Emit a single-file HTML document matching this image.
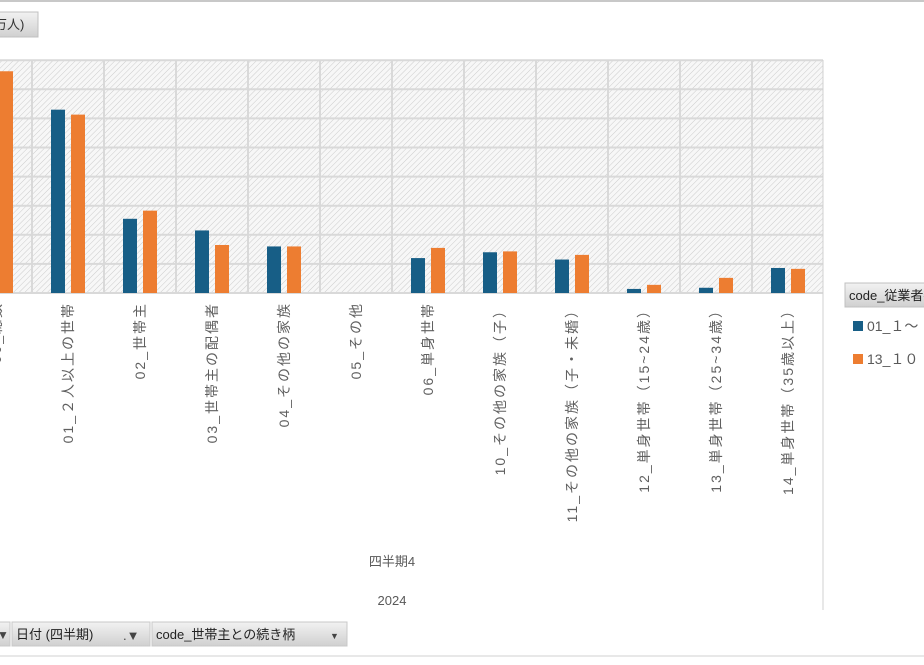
<!DOCTYPE html>
<html><head><meta charset="utf-8"><style>
body{margin:0;width:924px;height:660px;overflow:hidden;background:#fff;font-family:"Liberation Sans","Noto Sans CJK JP",sans-serif;}
</style></head><body>
<svg width="924" height="660" xmlns="http://www.w3.org/2000/svg">
<defs>
<pattern id="hatch" width="4" height="4" patternUnits="userSpaceOnUse" patternTransform="rotate(45)">
<rect width="4" height="4" fill="#f7f7f7"/><line x1="0" y1="0" x2="0" y2="4" stroke="#cccccc" stroke-width="1"/>
</pattern>
<linearGradient id="btn" x1="0" y1="0" x2="0" y2="1"><stop offset="0" stop-color="#f2f2f2"/><stop offset="1" stop-color="#d0d0d0"/></linearGradient>
</defs>
<line x1="0" y1="1" x2="924" y2="1" stroke="#c8c8c8" stroke-width="2"/>
<g>
<rect x="-2" y="12" width="40" height="25" fill="url(#btn)" stroke="#c0c0c0"/>
<text x="-6" y="29" font-size="13" fill="#333">万人)</text>
</g>
<rect x="0" y="60" width="823" height="233" fill="url(#hatch)"/>
<g id="grid"></g>
<g id="bars"></g>
<g id="labels"></g>
<line x1="823" y1="60" x2="823" y2="610" stroke="#d0d0d0"/>
<text x="392" y="566" font-size="13" fill="#595959" text-anchor="middle">四半期4</text>
<text x="392" y="605" font-size="13" fill="#595959" text-anchor="middle">2024</text>
<g>
<g>
<rect x="845" y="283" width="85" height="24" fill="url(#btn)" stroke="#c0c0c0"/>
<text x="849" y="300" font-size="13" fill="#222">code_従業者数</text>
</g>
<g>
<rect x="853" y="321" width="10" height="10" fill="#175e86"/>
<text x="867" y="331" font-size="14" fill="#595959">01_１～</text>
</g>
<g>
<rect x="853" y="354" width="10" height="10" fill="#ed7d31"/>
<text x="867" y="364" font-size="14" fill="#595959">13_１０</text>
</g>
</g>
<g>
<rect x="-2" y="622" width="12" height="24" fill="url(#btn)" stroke="#c8c8c8"/>
<text x="-3" y="639" font-size="12" fill="#444">▼</text>
<g>
<rect x="12" y="622" width="138" height="24" fill="url(#btn)" stroke="#c8c8c8"/>
<text x="16" y="639" font-size="13" fill="#222">日付 (四半期)</text>
<text x="123" y="640" font-size="13" fill="#444">.▼</text>
</g>
<g>
<rect x="152" y="622" width="195" height="24" fill="url(#btn)" stroke="#c8c8c8"/>
<text x="156" y="639" font-size="13" fill="#222">code_世帯主との続き柄</text>
<text x="330" y="639" font-size="9" fill="#444">▼</text>
</g>
</g>
<line x1="0" y1="656" x2="924" y2="656" stroke="#d0d0d0"/>
</svg>
<script>
const categories=["00_総数","01_２人以上の世帯","02_世帯主","03_世帯主の配偶者","04_その他の家族","05_その他","06_単身世帯","10_その他の家族（子）","11_その他の家族（子・未婚）","12_単身世帯（15~24歳）","13_単身世帯（25~34歳）","14_単身世帯（35歳以上）"];
const series01=[7.9,6.3,2.55,2.15,1.6,0,1.2,1.4,1.15,0.14,0.18,0.86];
const series13=[7.62,6.13,2.83,1.65,1.6,0,1.55,1.43,1.31,0.28,0.52,0.83];
const yTicks=[0,1,2,3,4,5,6,7,8];
const ns="http://www.w3.org/2000/svg";
const y0=293, unit=29.1, x0=-4, cw=72;
const yS=v=>y0-v*unit, xS=i=>x0+i*cw;
const grid=document.getElementById('grid'),bars=document.getElementById('bars'),labels=document.getElementById('labels');
yTicks.forEach(t=>{const l=document.createElementNS(ns,'line');


l.setAttribute('x1',0);l.setAttribute('x2',823);l.setAttribute('y1',yS(t));l.setAttribute('y2',yS(t));l.setAttribute('stroke','#d9d9d9');l.setAttribute('stroke-width','2');grid.appendChild(l);});
categories.forEach((c,i)=>{const x=xS(i)+cw/2;if(x>=822)return;const l=document.createElementNS(ns,'line');


l.setAttribute('x1',x);l.setAttribute('x2',x);l.setAttribute('y1',60);l.setAttribute('y2',293);l.setAttribute('stroke','#d9d9d9');l.setAttribute('stroke-width','2');grid.appendChild(l);});
function bar(v,x,col,name){if(v<=0)return;const r=document.createElementNS(ns,'rect');


r.setAttribute('x',x);r.setAttribute('y',yS(v));r.setAttribute('width',14);r.setAttribute('height',y0-yS(v));r.setAttribute('fill',col);bars.appendChild(r);}
categories.forEach((c,i)=>{const cx=xS(i);
bar(series01[i],cx-17,'#175e86','bar-01');
bar(series13[i],cx+3,'#ed7d31','bar-13');
const t=document.createElementNS(ns,'text');


t.setAttribute('transform','translate('+(cx+5)+',302) rotate(-90)');t.setAttribute('text-anchor','end');t.setAttribute('font-size','14');t.setAttribute('letter-spacing','2');t.setAttribute('fill','#606060');t.textContent=c;labels.appendChild(t);});
</script>
</body></html>
